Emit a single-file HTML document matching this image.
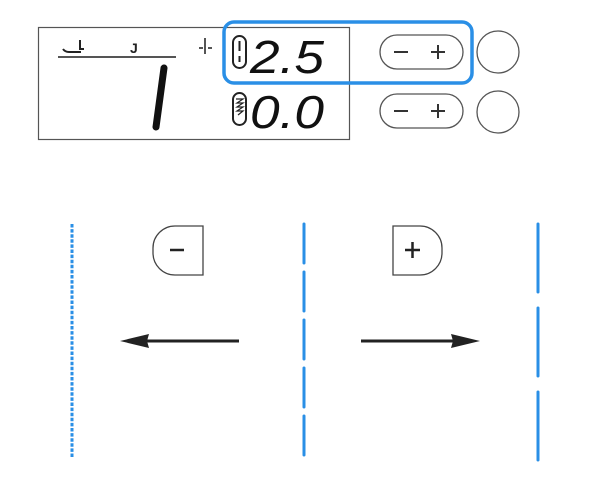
<!DOCTYPE html>
<html><head><style>body{margin:0;background:#fff}</style></head><body>
<svg width="600" height="494" viewBox="0 0 600 494" xmlns="http://www.w3.org/2000/svg" font-family="Liberation Sans, sans-serif">
<rect x="38.5" y="27.5" width="311" height="112" fill="none" stroke="#555" stroke-width="1.2"/>
<line x1="58" y1="57" x2="176" y2="57" stroke="#555" stroke-width="2"/>
<path d="M63 49 q2 3 6 3 h12 M80 40 v9 h4" fill="none" stroke="#222" stroke-width="2"/>
<text x="130" y="53" font-size="14" font-weight="bold" fill="#222">J</text>
<path d="M205 38 v16 M199 48 h4 M208 48 h4" stroke="#555" stroke-width="2" fill="none"/>
<path d="M164 68 L156 127" stroke="#111" stroke-width="7" stroke-linecap="round"/>
<rect x="233" y="36" width="13" height="32" rx="6.5" fill="none" stroke="#222" stroke-width="2"/>
<path d="M239.5 41 v10 M239.5 56 v6" stroke="#222" stroke-width="2"/>
<text x="250" y="73" font-size="46" font-style="italic" fill="#111" textLength="74" lengthAdjust="spacingAndGlyphs">2.5</text>
<rect x="233" y="93" width="13" height="32" rx="6.5" fill="none" stroke="#222" stroke-width="2"/>
<path d="M236 99 h7 l-6 4 h6 l-6 4 h6 l-6 4 h6 l-5 4" stroke="#222" stroke-width="1.2" fill="none"/>
<text x="250" y="128" font-size="46" font-style="italic" fill="#111" textLength="74" lengthAdjust="spacingAndGlyphs">0.0</text>
<rect x="224" y="22" width="248" height="61" rx="10" fill="none" stroke="#2a8fe6" stroke-width="3.5"/>
<rect x="380" y="35" width="83" height="34" rx="17" fill="none" stroke="#555" stroke-width="1.3"/>
<path d="M394 52 h14 M431 52 h14 M438 45 v14" stroke="#333" stroke-width="2"/>
<rect x="380" y="94" width="83" height="34" rx="17" fill="none" stroke="#555" stroke-width="1.3"/>
<path d="M394 111 h14 M431 111 h14 M438 104 v14" stroke="#333" stroke-width="2"/>
<circle cx="498" cy="52" r="21" fill="none" stroke="#555" stroke-width="1.3"/>
<circle cx="498" cy="112" r="21" fill="none" stroke="#555" stroke-width="1.3"/>
<line x1="72" y1="224" x2="72" y2="458" stroke="#2a8fe6" stroke-width="3" stroke-dasharray="3.5 1.6"/>
<line x1="304" y1="224" x2="304" y2="462" stroke="#2a8fe6" stroke-width="3" stroke-dasharray="39 9" stroke-linecap="round"/>
<line x1="538" y1="224" x2="538" y2="462" stroke="#2a8fe6" stroke-width="3" stroke-dasharray="68 16" stroke-linecap="round"/>
<path d="M203 226 V275 H175 A22 22 0 0 1 153 253 V248 A22 22 0 0 1 175 226 Z" fill="none" stroke="#444" stroke-width="1.3"/>
<path d="M170 250 h14" stroke="#222" stroke-width="2.5"/>
<path d="M393 226 V275 H420 A22 22 0 0 0 442 253 V248 A22 22 0 0 0 420 226 Z" fill="none" stroke="#444" stroke-width="1.3"/>
<path d="M405 250 h15 M412.5 242 v16" stroke="#222" stroke-width="2.5"/>
<path d="M239 341 H140" stroke="#222" stroke-width="3"/>
<path d="M120 341 L149 334 L147 341 L149 348 Z" fill="#222"/>
<path d="M361 341 H460" stroke="#222" stroke-width="3"/>
<path d="M480 341 L451 334 L453 341 L451 348 Z" fill="#222"/>
</svg>
</body></html>
